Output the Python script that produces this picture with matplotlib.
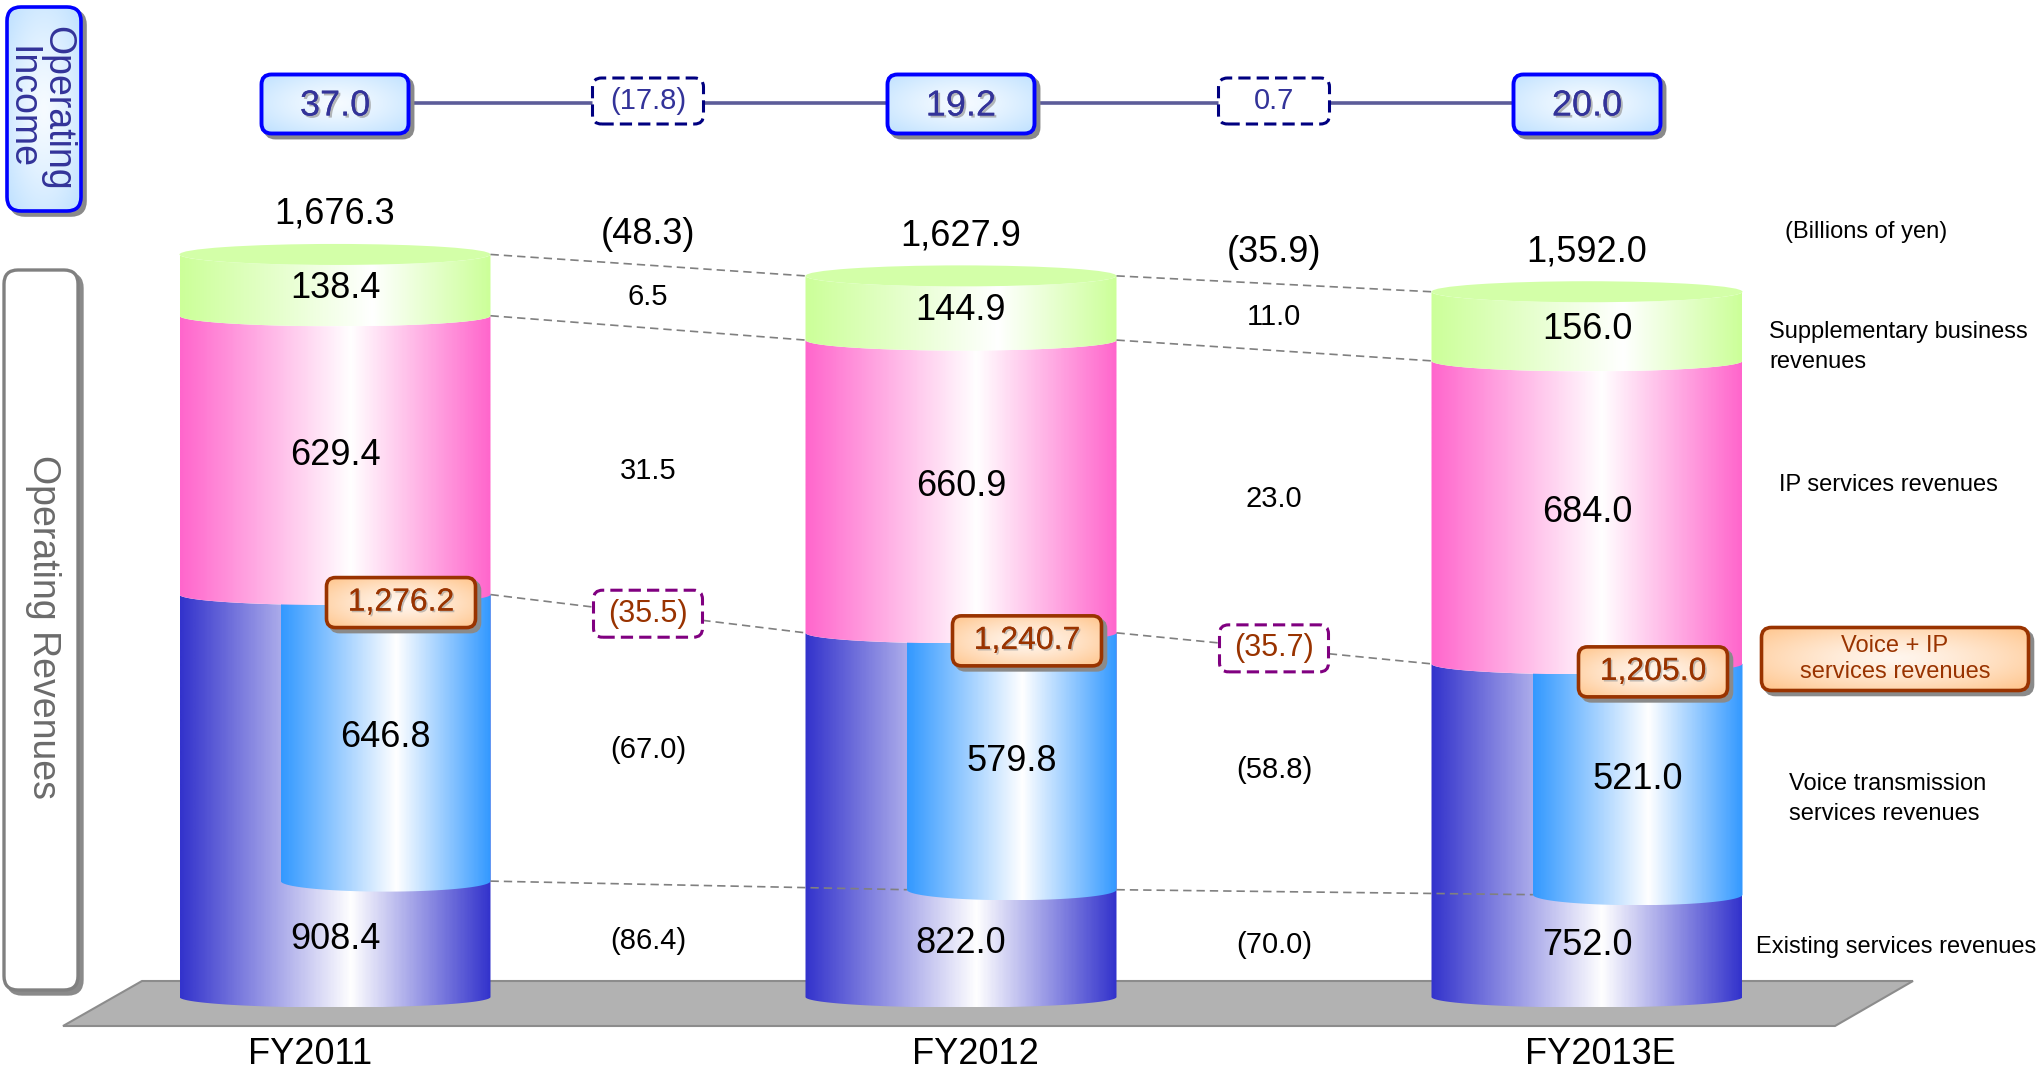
import numpy as np
import matplotlib
matplotlib.use("Agg")
import matplotlib.pyplot as plt
from matplotlib.patches import PathPatch, FancyBboxPatch, Polygon, Ellipse
from matplotlib.path import Path
from matplotlib.colors import LinearSegmentedColormap, to_rgb
import matplotlib.patheffects as pe

plt.rcParams['font.family'] = ['Liberation Sans', 'DejaVu Sans']

# ---------------- data (billions of yen) ----------------
categories = ["FY2011", "FY2012", "FY2013E"]
existing = [908.4, 822.0, 752.0]
voice = [646.8, 579.8, 521.0]
ip = [629.4, 660.9, 684.0]
supp = [138.4, 144.9, 156.0]
totals = [1676.3, 1627.9, 1592.0]
voice_ip = [1276.2, 1240.7, 1205.0]
op_income = [37.0, 19.2, 20.0]
op_income_chg = [-17.8, 0.7]
total_chg = [-48.3, -35.9]
supp_chg = [6.5, 11.0]
ip_chg = [31.5, 23.0]
voice_ip_chg = [-35.5, -35.7]
voice_chg = [-67.0, -58.8]
existing_chg = [-86.4, -70.0]

# ---------------- layout ----------------
W, H = 2043, 1068
X0, XS = 335.0, 626.0      # pixel of first category, pixels per category
Y0, YS = 997.0, 0.443      # pixel of zero, pixels per billion yen

fig = plt.figure(figsize=(W / 100, H / 100), dpi=100)
ax = fig.add_axes([0, 0, 1, 1])
ax.axis('off')
XLIM = (-X0 / XS, (W - X0) / XS)
YLIM = (-(H - Y0) / YS, Y0 / YS)


def dx(p):
    return p / XS


def dy(p):
    return p / YS


def P(px, py):
    return ((px - X0) / XS, (Y0 - py) / YS)


HW = dx(155.5)
RY = dy(10.5)
n = len(categories)
xpos = np.arange(n)
ex = np.array(existing)
vo = np.array(voice)
ipa = np.array(ip)
su = np.array(supp)
ip_top = ex + ipa
tot_top = ip_top + su
vo_bot = ex - vo


def fmt(v):
    s = f"{abs(v):,.1f}"
    return f"({s})" if v < 0 else s


def hcols(stops):
    cmap = LinearSegmentedColormap.from_list('g', stops)
    return cmap(np.linspace(0, 1, 300))[None, :, :3]


def radial(edge, center, nx=120, ny=60):
    u = np.linspace(-1, 1, nx)[None, :]
    v = np.linspace(-1, 1, ny)[:, None]
    r = np.clip(np.sqrt(u ** 2 + v ** 2) / np.sqrt(2), 0, 1)
    e = np.array(to_rgb(edge))
    c = np.array(to_rgb(center))
    return c + (e - c) * (r[..., None] ** 1.3)


def gradient_fill(patch, img, extent, z):
    patch.set_zorder(z)
    patch.set_facecolor('none')
    patch.set_edgecolor('none')
    ax.add_patch(patch)
    im = ax.imshow(img, extent=extent, origin='lower', aspect='auto',
                   interpolation='bilinear', zorder=z)
    im.set_clip_path(patch)
    return im


def lower_arc(xc, half, y, npts=80):
    t = np.linspace(0, np.pi, npts)
    return np.column_stack([xc - half * np.cos(t), y - RY * np.sin(t)])


def side_patch(xc, half, y0, y1):
    top = lower_arc(xc, half, y1)
    bot = lower_arc(xc, half, y0)[::-1]
    verts = np.vstack([top, bot, top[:1]])
    return PathPatch(Path(verts, closed=True))


def rbox(cx, cy, wpx, hpx, rpx, ec, lw, img=None, fc='white', ls='solid',
         shadow=True, z=6):
    x0 = cx - dx(wpx / 2)
    y0 = cy - dy(hpx / 2)
    kw = dict(boxstyle=f"round,pad=0,rounding_size={dx(rpx)}",
              mutation_aspect=XS / YS)
    if shadow:
        sh = FancyBboxPatch((x0 + dx(4), y0 - dy(4)), dx(wpx), dy(hpx),
                            fc='#8a8a8a', ec='#8a8a8a', lw=lw, zorder=z - 0.2, **kw)
        ax.add_patch(sh)
    if img is not None:
        bg = FancyBboxPatch((x0, y0), dx(wpx), dy(hpx), **kw)
        gradient_fill(bg, img, [x0, x0 + dx(wpx), y0, y0 + dy(hpx)], z - 0.1)
        fc = 'none'
    b = FancyBboxPatch((x0, y0), dx(wpx), dy(hpx), fc=fc, ec=ec, lw=lw,
                       ls=ls, zorder=z, **kw)
    ax.add_patch(b)


EXIST = [(0, '#3333cc'), (0.55, '#ffffff'), (1, '#3333cc')]
VOICE = [(0, '#3399ff'), (0.55, '#ffffff'), (1, '#3399ff')]
PINK = [(0, '#ff66cc'), (0.55, '#ffffff'), (1, '#ff66cc')]
GREEN = [(0, '#ccff99'), (0.62, '#ffffff'), (1, '#ccff99')]

# ---------------- floor ----------------
ax.add_patch(Polygon([P(63, 1026), P(1835, 1026), P(1913, 981), P(142, 981)],
                     closed=True, fc='#b2b2b2', ec='#8c8c8c', lw=1.5, zorder=1))

# ---------------- cylinders ----------------
for i in range(n):
    xc = xpos[i]
    gradient_fill(side_patch(xc, HW, 0, ex[i]), hcols(EXIST),
                  [xc - HW, xc + HW, -RY, ex[i]], 2)
    vl = xc - 0.348 * HW
    vr = xc + HW
    vc = (vl + vr) / 2
    vh = (vr - vl) / 2
    varc = lower_arc(vc, vh, vo_bot[i])[::-1]
    vverts = np.vstack([[(vl, ex[i]), (vr, ex[i])], varc, [(vl, ex[i])]])
    gradient_fill(PathPatch(Path(vverts, closed=True)), hcols(VOICE),
                  [vl, vr, vo_bot[i] - RY, ex[i]], 2.2)
    gradient_fill(side_patch(xc, HW, ex[i], ip_top[i]), hcols(PINK),
                  [xc - HW, xc + HW, ex[i] - RY, ip_top[i]], 2.4)
    gradient_fill(side_patch(xc, HW, ip_top[i], tot_top[i]), hcols(GREEN),
                  [xc - HW, xc + HW, ip_top[i] - RY, tot_top[i]], 2.6)
    ax.add_patch(Ellipse((xc, tot_top[i]), 2 * HW, 2 * RY, fc='#d3ffa8',
                         ec='none', zorder=2.8))

# ---------------- connectors ----------------
dash_kw = dict(color='#808080', lw=1.2, ls=(0, (5, 3)), zorder=4)
for i in range(n - 1):
    xa = xpos[i] + HW
    xb = xpos[i + 1] - HW
    for arr in (tot_top, ip_top, ex):
        ax.plot([xa, xb], [arr[i], arr[i + 1]], **dash_kw)
    ax.plot([xa, xpos[i + 1] - 0.348 * HW], [vo_bot[i], vo_bot[i + 1]], **dash_kw)

# ---------------- bar labels ----------------
big = 26
for i in range(n):
    xc = xpos[i]
    ax.text(xc, tot_top[i] + dy(40), fmt(totals[i]), ha='center', va='center',
            fontsize=big, zorder=8)
    ax.text(xc, (ip_top[i] + tot_top[i]) / 2 - dy(3), fmt(supp[i]), ha='center',
            va='center', fontsize=big, zorder=8)
    ax.text(xc, (ex[i] + ip_top[i]) / 2, fmt(ip[i]), ha='center', va='center',
            fontsize=big, zorder=8)
    ax.text(xc + 0.326 * HW, ex[i] - vo[i] / 2, fmt(voice[i]), ha='center',
            va='center', fontsize=big, zorder=8)
    ax.text(xc, vo_bot[i] / 2, fmt(existing[i]), ha='center', va='center',
            fontsize=big, zorder=8)
    # Voice + IP boxes
    bx, byy = xc + dx(66), ex[i] - dy(8)
    rbox(bx, byy, 149, 50, 9, '#993300', 2.6,
         img=radial('#ffc48a', '#fff6ee'), z=7)
    ax.text(bx, byy, fmt(voice_ip[i]), ha='center', va='center', fontsize=23,
            color='#993300', zorder=8,
            path_effects=[pe.withSimplePatchShadow(offset=(1.2, -1.2),
                                                   shadow_rgbFace='#999999', alpha=0.6),
                          pe.Normal()])

# category labels
cat_shift = [-25, 14, 13]
for i in range(n):
    ax.text(xpos[i] + dx(cat_shift[i]), P(0, 1054)[1], categories[i],
            ha='center', va='center', fontsize=big, zorder=8)

# ---------------- change labels ----------------
for i in range(n - 1):
    xm = xpos[i] + 0.5
    ax.text(xm, (tot_top[i] + tot_top[i + 1]) / 2 + dy(31), fmt(total_chg[i]),
            ha='center', va='center', fontsize=big, zorder=8)
    ax.text(xm, ((ip_top[i] + tot_top[i]) / 2 + (ip_top[i + 1] + tot_top[i + 1]) / 2) / 2,
            fmt(supp_chg[i]), ha='center', va='center', fontsize=21, zorder=8)
    ax.text(xm, ((ex[i] + ip_top[i]) / 2 + (ex[i + 1] + ip_top[i + 1]) / 2) / 2,
            fmt(ip_chg[i]), ha='center', va='center', fontsize=21, zorder=8)
    ym = (ex[i] + ex[i + 1]) / 2
    rbox(xm, ym, 109, 47, 9, '#800080', 2.2, fc='white', ls=(0, (4, 2)),
         shadow=False, z=7)
    ax.text(xm, ym, fmt(voice_ip_chg[i]), ha='center', va='center', fontsize=22,
            color='#993300', zorder=8)
    ax.text(xm, ((ex[i] - vo[i] / 2) + (ex[i + 1] - vo[i + 1] / 2)) / 2,
            fmt(voice_chg[i]), ha='center', va='center', fontsize=21, zorder=8)
    ax.text(xm, (vo_bot[i] / 2 + vo_bot[i + 1] / 2) / 2,
            fmt(existing_chg[i]), ha='center', va='center', fontsize=21, zorder=8)

# ---------------- operating income row ----------------
IY = P(0, 103)[1]
ax.plot([xpos[0], xpos[-1]], [IY, IY], color='#5c5c99', lw=2.6, zorder=4)
inc_fx = [pe.withSimplePatchShadow(offset=(1.5, -1.5), shadow_rgbFace='#999999',
                                   alpha=0.7), pe.Normal()]
for i in range(n):
    rbox(xpos[i], P(0, 104)[1], 147, 59, 10, '#0000ff', 2.8,
         img=radial('#bde0ff', '#f6fbff'), z=6)
    ax.text(xpos[i], P(0, 106)[1], fmt(op_income[i]), ha='center', va='center',
            fontsize=26, color='#333399', zorder=8, path_effects=inc_fx)
for i in range(n - 1):
    yy = P(0, 101)[1]
    rbox(xpos[i] + 0.5, yy, 111, 46, 9, '#000080', 2.2, fc='white',
         ls=(0, (4, 2)), shadow=False, z=6)
    ax.text(xpos[i] + 0.5, yy, fmt(op_income_chg[i]), ha='center', va='center',
            fontsize=21, color='#333399', zorder=8)

# ---------------- side titles ----------------
cx, cy = P(44, 109)
rbox(cx, cy, 74, 204, 14, '#0000ff', 2.6, img=radial('#bde0ff', '#f6fbff', 40, 120), z=6)
tx, ty = P(39, 108)
ax.text(tx, ty, "Operating\nIncome", rotation=270, ha='center', va='center',
        fontsize=27, color='#333399', linespacing=1.0, multialignment='center',
        zorder=8)
cx, cy = P(41, 630)
rbox(cx, cy, 74, 720, 14, '#808080', 2.4, fc='white', z=6)
tx, ty = P(43, 627)
ax.text(tx, ty, "Operating Revenues", rotation=270, ha='center', va='center',
        fontsize=27, color='#6b6b6b', zorder=8)

# ---------------- right-hand labels ----------------
ax.text(*P(1866, 232), "(Billions of yen)", ha='center', va='center',
        fontsize=17, zorder=8)
ax.text(*P(1769, 347), "Supplementary business\nrevenues", ha='left',
        va='center', fontsize=17, linespacing=1.45, zorder=8)
ax.text(*P(1779, 485), "IP services revenues", ha='left', va='center',
        fontsize=17, zorder=8)
bx, byy = P(1895, 659)
rbox(bx, byy, 267, 63, 10, '#993300', 2.6, img=radial('#ffc48a', '#fff6ee'), z=6)
ax.text(bx, byy, "Voice + IP\nservices revenues", ha='center', va='center',
        fontsize=17, color='#993300', linespacing=1.2, zorder=8)
ax.text(*P(1789, 799), "Voice transmission\nservices revenues", ha='left',
        va='center', fontsize=17, linespacing=1.45, zorder=8)
ax.text(*P(1756, 947), "Existing services revenues", ha='left', va='center',
        fontsize=17, zorder=8)

ax.set_xlim(XLIM)
ax.set_ylim(YLIM)
ax.set_aspect('auto')
fig.savefig("out.png", dpi=100)
